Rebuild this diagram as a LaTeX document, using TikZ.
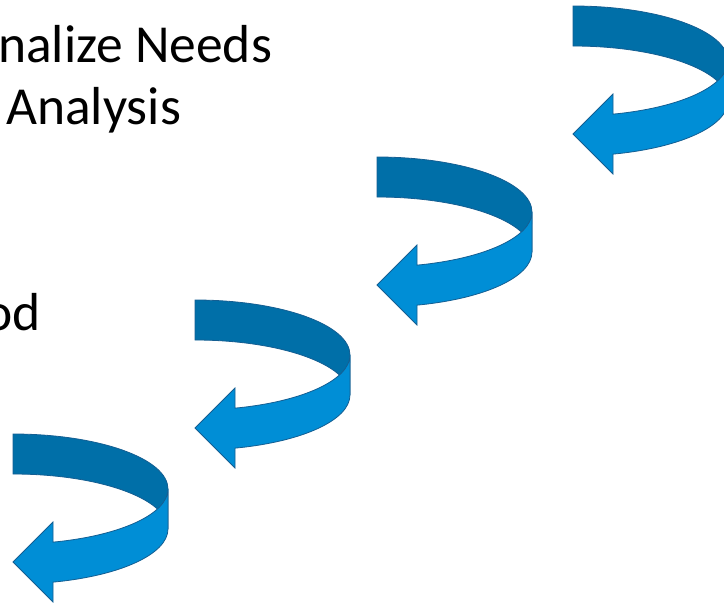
\documentclass[tikz,border=0pt]{standalone}
\usepackage{fontspec}
\setmainfont{Carlito}
\usepackage{tikz}
\usetikzlibrary{positioning,calc}
\definecolor{ribbondark}{RGB}{0,111,168}
\definecolor{ribbonlight}{RGB}{0,142,214}
\definecolor{ribbonline}{RGB}{20,94,146}
\tikzset{
    every picture/.style={line width=0.5pt},
    steptext/.style={font=\fontsize{53.5}{62}\selectfont,inner sep=0pt},
    curlarrow/.pic={
        % back of the ribbon
        \path[draw=ribbonline,fill=ribbondark,line width=0.8pt]
            (0,0) arc[start angle=90,end angle=0,x radius=155,y radius=55]
            -- ++(0,-40) arc[start angle=0,end angle=90,x radius=155,y radius=55]
            -- cycle;
        % front of the ribbon with the head
        \path[draw=ribbonline,fill=ribbonlight,line width=0.8pt]
            (155,-55) arc[start angle=0,end angle=-75.04,x radius=155,y radius=55]
            -- (40,-88) -- (0,-128) -- (40,-168) -- (40,-148.14)
            arc[start angle=-75.04,end angle=0,x radius=155,y radius=55]
            -- cycle;
    }
}

\begin{document}
\begin{tikzpicture}[x=1pt,y=1pt]
        \useasboundingbox (0,0) rectangle (724,-603);
        \clip (0,0) rectangle (724,-603);

        % Text cut off at the left
        \node[steptext,anchor=base west] (needs) at (-2,-62) {nalize Needs};
        \node[steptext,anchor=base west] (analysis) at (6,-124) {Analysis};
        \node[steptext,anchor=base east] (od) at (41,-330) {od};

        % Arrows, top right to bottom left
        \pic (first) at (573,-6) {curlarrow};
        \pic (second) at (377,-157) {curlarrow};
        \pic (third) at (195,-300) {curlarrow};
        \pic (fourth) at (13,-434) {curlarrow};
\end{tikzpicture}
\end{document}
